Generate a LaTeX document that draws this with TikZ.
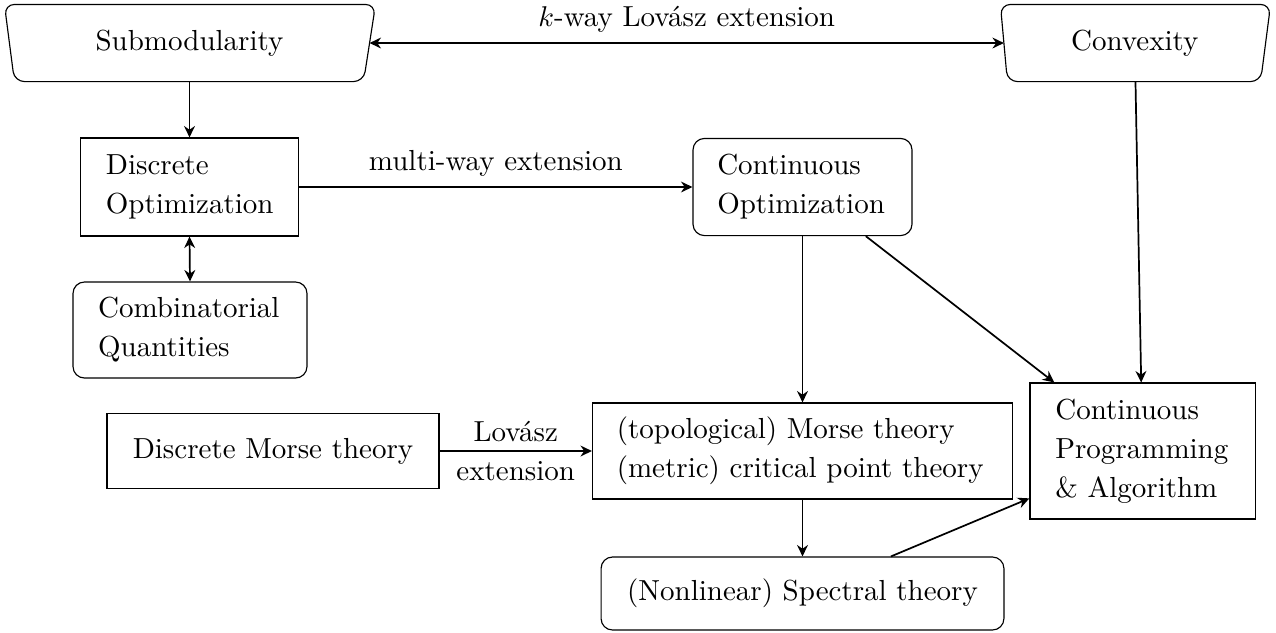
\documentclass[tikz,border=0pt]{standalone}
\usetikzlibrary{arrows.meta,calc}
\begin{document}
\begin{tikzpicture}[x=0.35pt,y=-0.35pt,
  >={Stealth[length=4pt,width=3.8pt,inset=1.3pt]},
  txt/.style={font=\fontsize{10.15}{13.7}\selectfont},
  plainbox/.style={txt, draw, line width=0.4pt, inner ysep=0pt},
  roundbox/.style={plainbox, rounded corners=4pt},
  leftbox/.style={align=flush left},
  arr/.style={semithick, ->},
  darr/.style={semithick, <->},
  trap/.style={line width=0.4pt, rounded corners=3.5pt}
]
\useasboundingbox (0,0) rectangle (1276,632);

% trapezium-like nodes
\node[txt, minimum width=125.65pt, minimum height=26.6pt, inner sep=0pt] (sub) at (189.5,43) {Submodularity};
\draw[trap] ($(sub.north west)+(-5,0)$) -- ($(sub.north east)+(6,0)$) -- ($(sub.south east)+(-6,0)$) -- ($(sub.south west)+(5,0)$) -- cycle;

\node[txt, minimum width=91.2pt, minimum height=26.6pt, inner sep=0pt] (conv) at (1134.75,43) {Convexity};
\draw[trap] ($(conv.north west)+(-3.5,0)$) -- ($(conv.north east)+(5,0)$) -- ($(conv.south east)+(-5,0)$) -- ($(conv.south west)+(3.5,0)$) -- cycle;

% boxes
\node[plainbox, leftbox, text width=58.5pt, inner xsep=9pt, minimum height=34.3pt] (dopt) at (189.5,187) {Discrete\\Optimization};
\node[roundbox, leftbox, text width=64.3pt, inner xsep=8.8pt, minimum height=33.6pt] (comb) at (190,330) {Combinatorial\\Quantities};
\node[roundbox, leftbox, text width=59.65pt, inner xsep=8.5pt, minimum height=34pt] (copt) at (802.5,187) {Continuous\\Optimization};
\node[plainbox, minimum width=116.2pt, minimum height=26.25pt] (dmorse) at (273,451) {Discrete Morse theory};
\node[plainbox, leftbox, text width=130pt, inner xsep=8.5pt, minimum height=33.6pt] (morse) at (802.5,451) {(topological) Morse theory\\(metric) critical point theory};
\node[roundbox, minimum width=141pt, minimum height=25.55pt] (spec) at (802.5,593.5) {(Nonlinear) Spectral theory};
\node[plainbox, leftbox, text width=61pt, inner xsep=8.9pt, minimum height=47.6pt] (cp) at (1142.5,451) {Continuous\\Programming\\\& Algorithm};

% connectors
\draw[darr] (sub.east) -- node[txt, above] {$k$-way Lov\'asz extension} (conv.west);
\draw[arr] (sub.south) -- (dopt.north);
\draw[darr] (dopt.south) -- (comb.north);
\draw[arr] (dopt.east) -- node[txt, above] {multi-way extension} (copt.west);
\draw[arr] (copt.south) -- (morse.north);
\draw[arr] (copt) -- (cp);
\draw[arr] (conv) -- (cp);
\draw[arr] (dmorse.east) -- node[txt, align=center] {Lov\'asz\\extension} (morse.west);
\draw[arr] (morse.south) -- (spec.north);
\draw[arr] (spec) -- (cp);
\end{tikzpicture}
\end{document}
